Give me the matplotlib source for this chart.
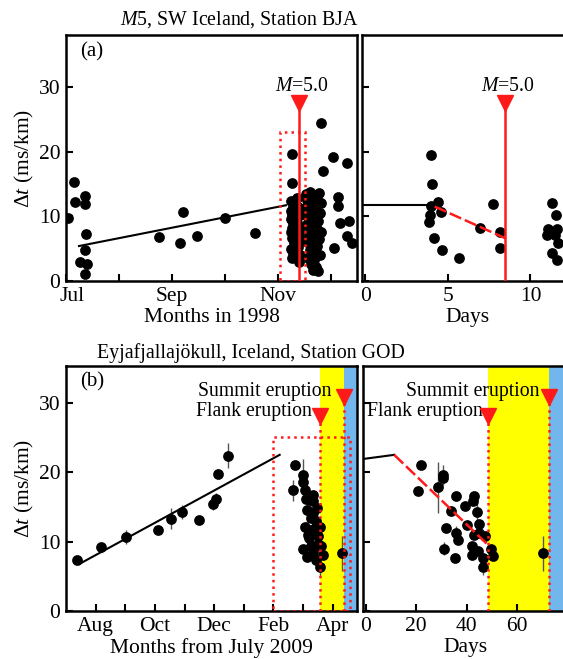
import matplotlib
matplotlib.use('Agg')
import matplotlib.pyplot as plt
import matplotlib.transforms as mtransforms
from matplotlib.patches import Rectangle

plt.rcParams['font.family'] = ['Liberation Serif', 'DejaVu Serif']
plt.rcParams['mathtext.fontset'] = 'custom'
plt.rcParams['mathtext.rm'] = 'Liberation Serif'
plt.rcParams['mathtext.it'] = 'Liberation Serif:italic'

RED = '#ff1a1a'
YELLOW = '#ffff00'
BLUE = '#72b6ee'

# ---- (a) M5, SW Iceland, BJA : months since 1 Jul 1998 ----
a_x = [0.03, 0.15, 0.17, 0.36, 0.36, 0.38, 0.36, 0.26, 0.40, 0.36,
       1.76, 2.15, 2.20, 2.48, 3.00, 3.57,
       4.26, 4.26, 4.25, 4.28, 4.24, 4.27, 4.25, 4.28, 4.26, 4.24, 4.27, 4.30, 4.25, 4.29, 4.26, 4.31,
       4.35, 4.38, 4.42, 4.36, 4.40, 4.44, 4.37, 4.41, 4.39,
       4.52, 4.60, 4.70, 4.78, 4.55, 4.65, 4.75, 4.82, 4.50, 4.62, 4.72, 4.80, 4.56, 4.66, 4.76,
       4.53, 4.63, 4.73, 4.81, 4.58, 4.68, 4.77, 4.54, 4.64, 4.74, 4.60, 4.70, 4.79, 4.57, 4.67,
       4.62, 4.72, 4.66, 4.76,
       4.82, 4.84, 5.04, 5.30, 5.14, 5.14, 5.17, 5.33, 5.30, 5.39, 5.06]
a_y = [9.7, 15.3, 12.2, 13.1, 11.9, 7.2, 4.8, 3.0, 2.6, 1.1,
       6.85, 5.8, 10.7, 7.0, 9.7, 7.4,
       19.6, 15.2, 12.3, 11.5, 10.8, 10.2, 9.6, 8.9, 8.2, 7.5, 6.7, 5.9, 5.0, 4.3, 3.6, 11.9,
       12.8, 11.5, 10.2, 9.0, 7.8, 6.5, 5.2, 4.0, 3.0,
       13.5, 13.8, 13.2, 13.6, 12.5, 12.2, 12.4, 12.0, 11.2, 11.0, 10.8, 10.5, 9.9, 9.6, 9.3,
       8.7, 8.4, 8.0, 7.5, 7.3, 6.9, 6.5, 6.1, 5.7, 5.4, 4.8, 4.4, 4.0, 3.6, 3.2,
       2.6, 2.2, 1.7, 1.5,
       24.4, 17.0, 19.1, 18.2, 13.0, 11.6, 8.9, 9.2, 6.9, 5.8, 5.15]
a_fit_x = [0.245, 4.15]
a_fit_y = [5.4, 11.7]
a_quake = 4.40
a_month_ticks = [0, 1, 2, 3, 4, 5]
a_month_labels = ['Jul', '', 'Sep', '', 'Nov', '']

# days
ad_x = [3.97, 4.03, 4.39, 3.98, 3.92, 3.86, 4.59, 4.13, 4.67, 5.69, 7.71, 6.92, 8.18, 8.14,
        11.28, 11.52, 11.07, 11.59, 11.00, 11.48, 11.68, 11.32, 11.62]
ad_y = [19.4, 15.0, 12.2, 11.6, 10.2, 9.1, 10.7, 6.6, 4.8, 3.6, 11.85, 8.2, 7.5, 5.15,
        12.1, 10.2, 8.1, 8.1, 7.1, 7.1, 5.8, 4.3, 3.2]
ad_flat_x = [-0.2, 3.9]
ad_flat_y = [11.75, 11.75]
ad_drop_x = [4.2, 8.48]
ad_drop_y = [11.5, 6.6]
ad_quake = 8.48

# ---- (b) Eyjafjallajokull, GOD : months since 1 Jul 2009 ----
b_x = [0.38, 1.17, 2.01, 3.10, 3.56, 3.93, 4.49, 4.96, 5.05, 5.13, 5.47]
b_y = [7.35, 9.27, 10.6, 11.7, 13.3, 14.3, 13.1, 15.4, 16.2, 19.8, 22.4]
b_err = [0.6, 0.5, 1.0, 0.6, 1.5, 1.0, 0.6, 0.8, 0.8, 0.6, 1.8]
b2_x = [7.72, 7.67, 8.00, 8.00, 8.08, 8.34, 8.34, 8.12, 8.34, 8.06, 8.28, 8.57, 8.51,
        8.00, 8.28, 8.62, 8.12, 8.68, 8.45, 8.57, 8.20, 8.45,
        8.22, 8.26, 8.15, 8.40, 8.50, 8.35, 8.10, 8.48, 9.30]
b2_y = [21.0, 17.4, 19.6, 18.6, 17.4, 16.7, 15.8, 14.5, 14.1, 12.1, 11.6, 12.1, 10.8,
        9.0, 9.3, 9.3, 7.8, 8.0, 7.3, 6.4, 10.5, 13.0,
        16.0, 13.4, 11.0, 12.0, 9.6, 8.5, 16.2, 14.8, 8.3]
b2_err = [0, 1.5, 2.3, 0, 0, 0, 0, 2.0, 0, 0, 0, 0, 0,
          0, 0, 0, 0, 0, 0, 1.5, 0, 0,
          0, 0, 0, 0, 0, 0, 0, 0, 2.5]
b_fit_x = [0.46, 7.21]
b_fit_y = [6.8, 22.5]
b_flank = 8.56
b_summit = 9.37
b_month_ticks = [1, 2, 3, 4, 5, 6, 7, 8, 9]
b_month_labels = ['Aug', '', 'Oct', '', 'Dec', '', 'Feb', '', 'Apr']

# days
bd_x = [21.8, 20.5, 30.7, 30.8, 28.7, 36.0, 39.3, 43.0, 42.6, 44.0, 34.0, 32.0, 36.0, 36.7,
        40.0, 44.9, 45.0, 43.0, 47.3, 31.1, 35.3, 42.2, 42.0, 44.4, 46.6, 46.4, 49.7, 50.6, 70.5]
bd_y = [21.0, 17.3, 19.6, 19.1, 17.8, 16.6, 15.1, 16.6, 15.8, 14.3, 14.4, 11.9, 11.2, 10.2,
        12.4, 12.6, 11.2, 11.0, 10.8, 9.0, 7.6, 9.3, 8.1, 8.7, 7.6, 6.4, 9.0, 7.9, 8.3]
bd_err = [0, 0, 1.5, 0, 3.7, 0, 0, 0, 0, 1.5, 0, 0, 1.0, 0,
          0, 0, 0, 0, 0, 1.0, 0, 0, 0, 0, 0, 1.2, 0, 0, 2.5]
bd_flat_x = [-1.2, 11.2]
bd_flat_y = [21.9, 22.5]
bd_drop_x = [11.2, 48.6]
bd_drop_y = [22.5, 9.5]
bd_flank = 48.7
bd_summit = 73.0

W, H = 563, 659
fig = plt.figure(figsize=(W / 100, H / 100), dpi=100)

TICK_FS = 15.5
LABEL_FS = 15.5
NOTE_FS = 14.2


def px_axes(l, t, r, b):
    return fig.add_axes([l / W, 1 - b / H, (r - l) / W, (b - t) / H])


def style(ax):
    for s in ax.spines.values():
        s.set_linewidth(1.8)
    ax.tick_params(direction='in', length=5, width=1.5, labelsize=TICK_FS, pad=4)


dot_kw = dict(s=60, color='black', zorder=4, linewidths=0)
dash = (0, (5, 1.6))

# (a) months
ax = px_axes(66, 35, 357, 281)
style(ax)
ax.scatter(a_x, a_y, **dot_kw)
ax.plot(a_fit_x, a_fit_y, color='black', lw=1.5, zorder=3)
ax.add_patch(Rectangle((4.04, 0), 0.47, 23, fill=False, ec=RED, ls=':', lw=1.8, zorder=5))
ax.plot([a_quake, a_quake], [0, 27.5], color=RED, lw=1.8, zorder=6)
ax.plot([a_quake], [27.5], marker='v', ms=11, color=RED, zorder=7)
ax.text(4.45, 30.0, '$M$=5.0', fontsize=NOTE_FS, ha='center', va='center')
ax.text(0.048, 0.93, '(a)', transform=ax.transAxes, fontsize=15, va='center')
ax.set_xlim(0, 5.49)
ax.set_ylim(0, 38)
ax.set_xticks(a_month_ticks)
ax.set_xticklabels(a_month_labels)
first = ax.get_xticklabels()[0]
first.set_transform(first.get_transform() +
                    mtransforms.ScaledTranslation(6 / 100, 0, fig.dpi_scale_trans))
ax.set_yticks([0, 10, 20, 30])
ax.text(0.5, -0.15, 'Months in 1998', transform=ax.transAxes, fontsize=LABEL_FS,
        ha='center', va='center')
ax.text(-0.141, 0.5, r'$\mathit{\Delta t}$ (ms/km)', transform=ax.transAxes, fontsize=LABEL_FS,
        ha='center', va='center', rotation=90)

# (a) days
ax = px_axes(362, 35, 566, 281)
style(ax)
ax.scatter(ad_x, ad_y, **dot_kw)
ax.plot(ad_flat_x, ad_flat_y, color='black', lw=1.5, zorder=3)
ax.plot(ad_drop_x, ad_drop_y, color=RED, lw=1.8, ls=dash, zorder=5)
ax.plot([ad_quake, ad_quake], [0, 27.5], color=RED, lw=1.8, zorder=6)
ax.plot([ad_quake], [27.5], marker='v', ms=11, color=RED, zorder=7)
ax.text(8.66, 30.0, '$M$=5.0', fontsize=NOTE_FS, ha='center', va='center')
ax.set_xlim(-0.2, 12.15)
ax.set_ylim(0, 38)
ax.set_xticks([0, 5, 10])
ax.set_yticks([0, 10, 20, 30])
ax.set_yticklabels([])
ax.text(0.516, -0.15, 'Days', transform=ax.transAxes, fontsize=LABEL_FS, ha='center', va='center')

fig.text(120 / W, 1 - 20 / H, '$M$5, SW Iceland, Station BJA', fontsize=14.3,
         ha='left', va='center')

# (b) months
ax = px_axes(66, 366, 357, 611)
style(ax)
ax.axvspan(b_flank, b_summit, color=YELLOW, lw=0, zorder=0)
ax.axvspan(b_summit, 10, color=BLUE, lw=0, zorder=0)
ax.errorbar(b_x + b2_x, b_y + b2_y, yerr=b_err + b2_err, fmt='none', ecolor='#555555',
            elinewidth=1, zorder=3)
ax.scatter(b_x + b2_x, b_y + b2_y, **dot_kw)
ax.plot(b_fit_x, b_fit_y, color='black', lw=1.5, zorder=3)
ax.add_patch(Rectangle((7.0, 0), 2.6, 25, fill=False, ec=RED, ls=':', lw=1.8, zorder=5))
ax.plot([b_flank, b_flank], [0, 28.1], color=RED, lw=1.8, ls=':', zorder=6)
ax.plot([b_summit, b_summit], [0, 30.8], color=RED, lw=1.8, ls=':', zorder=6)
ax.plot([b_flank], [28.1], marker='v', ms=11, color=RED, zorder=7)
ax.plot([b_summit], [30.8], marker='v', ms=11, color=RED, zorder=7)
ax.text(8.96, 31.6, 'Summit eruption', fontsize=NOTE_FS, ha='right', va='center')
ax.text(8.29, 28.7, 'Flank eruption', fontsize=NOTE_FS, ha='right', va='center')
ax.text(0.048, 0.936, '(b)', transform=ax.transAxes, fontsize=15, va='center')
ax.set_xlim(0, 9.82)
ax.set_ylim(0, 35.3)
ax.set_xticks(b_month_ticks)
ax.set_xticklabels(b_month_labels)
ax.set_yticks([0, 10, 20, 30])
ax.text(0.5, -0.151, 'Months from July 2009', transform=ax.transAxes, fontsize=LABEL_FS,
        ha='center', va='center')
ax.text(-0.141, 0.5, r'$\mathit{\Delta t}$ (ms/km)', transform=ax.transAxes, fontsize=LABEL_FS,
        ha='center', va='center', rotation=90)

# (b) days
ax = px_axes(363, 366, 566, 611)
style(ax)
ax.axvspan(bd_flank, bd_summit, color=YELLOW, lw=0, zorder=0)
ax.axvspan(bd_summit, 90, color=BLUE, lw=0, zorder=0)
ax.errorbar(bd_x, bd_y, yerr=bd_err, fmt='none', ecolor='#555555', elinewidth=1, zorder=3)
ax.scatter(bd_x, bd_y, **dot_kw)
ax.plot(bd_flat_x, bd_flat_y, color='black', lw=1.5, zorder=3)
ax.plot(bd_drop_x, bd_drop_y, color=RED, lw=1.8, ls=dash, zorder=5)
ax.plot([bd_flank, bd_flank], [0, 28.1], color=RED, lw=1.8, ls=':', zorder=6)
ax.plot([bd_summit, bd_summit], [0, 30.8], color=RED, lw=1.8, ls=':', zorder=6)
ax.plot([bd_flank], [28.1], marker='v', ms=11, color=RED, zorder=7)
ax.plot([bd_summit], [30.8], marker='v', ms=11, color=RED, zorder=7)
ax.text(68.9, 31.6, 'Summit eruption', fontsize=NOTE_FS, ha='right', va='center')
ax.text(46.4, 28.7, 'Flank eruption', fontsize=NOTE_FS, ha='right', va='center')
ax.set_xlim(-1.2, 79.6)
ax.set_ylim(0, 35.3)
ax.set_xticks([0, 20, 40, 60])
ax.set_yticks([0, 10, 20, 30])
ax.set_yticklabels([])
ax.text(0.506, -0.151, 'Days', transform=ax.transAxes, fontsize=LABEL_FS, ha='center', va='center')

fig.text(97 / W, 1 - 353 / H, 'Eyjafjallajökull, Iceland, Station GOD', fontsize=14.3,
         ha='left', va='center')

fig.savefig('out.png', dpi=100)
